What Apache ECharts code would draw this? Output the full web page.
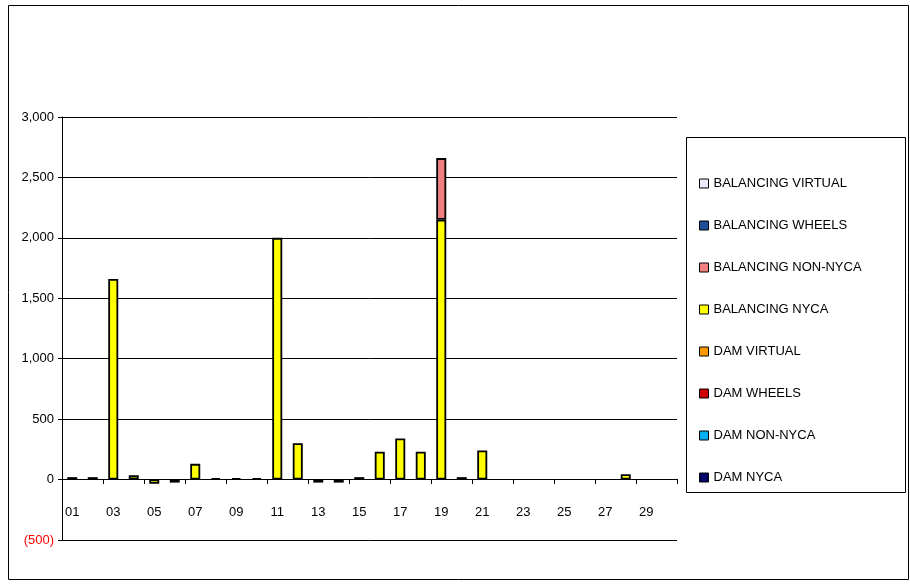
<!DOCTYPE html>
<html><head><meta charset="utf-8">
<script src="https://cdn.jsdelivr.net/npm/echarts@6/dist/echarts.min.js"></script>
<style>body{margin:0;background:#fff}#c{width:910px;height:588px}</style>
</head><body><div id="c"></div>
<script>
const days = Array.from({length:30},(_,i)=>String(i+1).padStart(2,'0'));
const seriesNames = ['BALANCING VIRTUAL','BALANCING WHEELS','BALANCING NON-NYCA','BALANCING NYCA','DAM VIRTUAL','DAM WHEELS','DAM NON-NYCA','DAM NYCA'];
const seriesColors = ['#E8ECF8','#1F4E9A','#F08080','#FFFF00','#FF9900','#CC0000','#00B0F0','#000066'];
const balancingNyca = [20,20,1660,35,-35,-25,130,12,12,12,2000,300,-25,-25,20,230,340,230,2150,20,240,null,null,null,null,null,null,45,null,null];
const balancingNonNyca = [null,null,null,null,null,null,null,null,null,null,null,null,null,null,null,null,null,null,510,null,null,null,null,null,null,null,null,null,null,null];
const empty = days.map(()=>null);
const dataMap = {'BALANCING NYCA':balancingNyca,'BALANCING NON-NYCA':balancingNonNyca};
const stackOrder = ['DAM NYCA','DAM NON-NYCA','DAM WHEELS','DAM VIRTUAL','BALANCING NYCA','BALANCING NON-NYCA','BALANCING WHEELS','BALANCING VIRTUAL'];
const series = stackOrder.map(n=>({
  name:n,type:'bar',stack:'t',barWidth:10,
  data:dataMap[n]||empty,
  itemStyle:{color:seriesColors[seriesNames.indexOf(n)],borderColor:'#000',borderWidth:1.8}
}));
const font='Liberation Sans Narrow, Arial Narrow, Liberation Sans';
const chart = echarts.init(document.getElementById('c'));
chart.setOption({
  animation:false,
  graphic:[{type:'rect',shape:{x:8.5,y:5.5,width:900,height:574},style:{fill:'none',stroke:'#000',lineWidth:1}},
           {type:'rect',shape:{x:686.5,y:137.5,width:219,height:355},style:{fill:'none',stroke:'#000',lineWidth:1}}],
  grid:{left:62,right:233,top:117,bottom:48},
  legend:{orient:'vertical',left:694,top:172,itemGap:29,itemWidth:9,itemHeight:9,icon:'rect',
    data:seriesNames,textStyle:{fontFamily:'Arial, Liberation Sans',fontSize:13,color:'#000'},
    itemStyle:{borderColor:'#000',borderWidth:1}},
  xAxis:{type:'category',data:days,offset:-61,
    axisLine:{onZero:false,lineStyle:{color:'#000'}},
    axisTick:{show:true,length:5,lineStyle:{color:'#000'}},
    axisLabel:{interval:1,margin:27,fontFamily:font,fontSize:13,color:'#000'}},
  yAxis:{type:'value',min:-500,max:3000,interval:500,
    axisLine:{show:true,lineStyle:{color:'#000'}},
    axisTick:{show:true,length:4,lineStyle:{color:'#000'}},
    splitLine:{lineStyle:{color:'#000',width:1}},
    axisLabel:{fontFamily:font,fontSize:13,
      formatter:v=>v<0?'{r|('+Math.abs(v).toLocaleString('en-US')+')}':v.toLocaleString('en-US'),
      rich:{r:{color:'#FF0000',fontSize:13,fontFamily:font}},color:'#000'}},
  series:series
});
</script></body></html>
